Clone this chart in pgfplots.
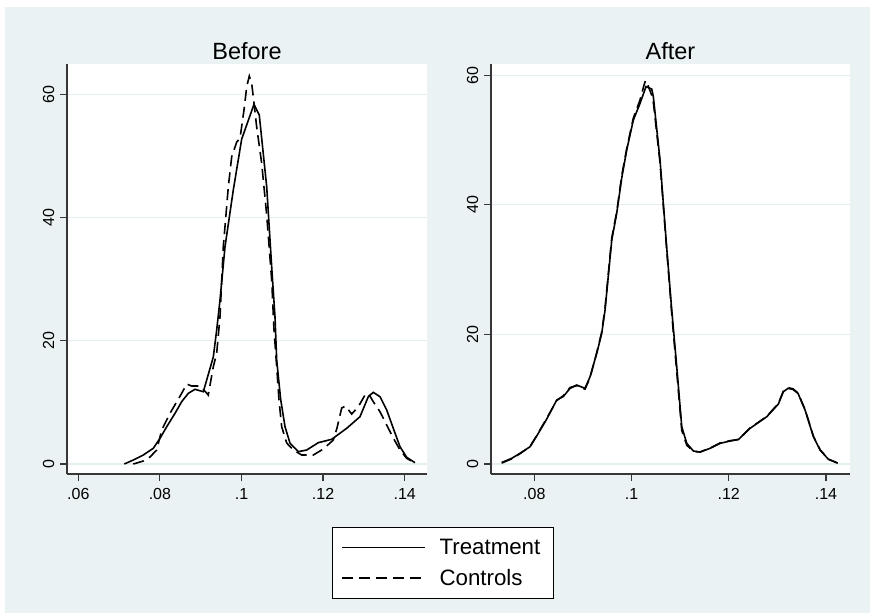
\documentclass[border=0pt]{standalone}
\usepackage{fontspec}
\setmainfont{Liberation Sans}
\usepackage{pgfplots}
\pgfplotsset{compat=1.18}

\definecolor{bgc}{RGB}{234,242,243}
\definecolor{gridc}{RGB}{228,238,240}
\definecolor{axc}{RGB}{55,55,55}

\pgfplotsset{
  stata/.style={
    scale only axis,
    height=410pt,
    axis background/.style={fill=white},
    axis x line*=bottom, axis y line*=left,
    tick align=outside, major tick length=7pt,
    axis line style={axc, line width=1.2pt},
    major tick style={axc, line width=1.2pt},
    ymajorgrids, grid style={gridc, line width=1.2pt},
    ytick={0,20,40,60}, yticklabels={0,20,40,60},
    yticklabel style={rotate=90, anchor=south, inner sep=0pt},
    xticklabel style={anchor=north, inner sep=0pt},
    xticklabel shift=7pt, yticklabel shift=5.5pt,
    tick label style={font=\fontsize{16}{19}\selectfont},
    /pgf/number format/assume math mode=true,
    title style={font=\fontsize{23.5}{28}\selectfont, inner sep=0pt, yshift=-1.5pt},
  },
  treat/.style={black, line width=1.6pt},
  ctrl/.style={black, line width=1.6pt, dash pattern=on 11pt off 6pt},
}

\begin{document}
\begin{tikzpicture}
\fill[white] (0pt,0pt) rectangle (873pt,614pt);
\fill[bgc] (5pt,1pt) rectangle (870pt,607pt);

% Before
\begin{axis}[stata,
  at={(67pt,140pt)}, anchor=south west, width=360pt,
  xmin=0.05723, xmax=0.14547, ymin=-1.62, ymax=64.9,
  xtick={0.06,0.08,0.1,0.12,0.14}, xticklabels={.06,.08,.1,.12,.14},
  title={Before},
  legend cell align=left,
  legend image code/.code={\draw[#1, line width=1.6pt] (0pt,0pt) -- (83pt,0pt);},
  legend style={at={(1.0444,-0.2166)}, anchor=center,
    draw=black, line width=1pt, fill=white,
    font=\fontsize{22.3}{26}\selectfont,
    inner xsep=9.3pt, inner ysep=12pt, row sep=13pt,
    nodes={inner sep=0pt},
    /tikz/every odd column/.append style={column sep=13.3pt}},
]
\addplot[treat] coordinates {
(0.07127,0) (0.07348,0.65) (0.07593,1.46) (0.07838,2.55) (0.08003,4.17)
(0.08167,6.05) (0.08370,8.22) (0.08534,10.11) (0.08696,11.47) (0.08860,12.12)
(0.09064,11.73) (0.09147,13.63) (0.09309,17.36) (0.09392,21.74) (0.09473,26.60)
(0.09596,35.25) (0.09799,44.45) (0.10005,52.72) (0.10306,58.35) (0.10436,56.61)
(0.10618,44.98) (0.10740,32.00) (0.10821,23.89) (0.10863,16.87) (0.10960,10.5)
(0.11067,6.05) (0.11190,3.36) (0.11393,2.00) (0.11598,2.27) (0.11882,3.46)
(0.12211,4.01) (0.12578,5.79) (0.12904,7.67) (0.13108,10.92) (0.13230,11.63)
(0.13395,10.92) (0.13559,8.76) (0.13721,5.79) (0.13885,2.81) (0.14049,1.09)
(0.14253,0.21)
};
\addlegendentry{Treatment\hspace*{4pt}}
\addplot[ctrl] coordinates {
(0.07348,0) (0.07593,0.49) (0.07757,1.14) (0.07922,2.27) (0.08044,5.5)
(0.08247,8.22) (0.08395,9.89) (0.08534,11.47) (0.08657,12.98) (0.08780,12.65)
(0.08983,12.65) (0.09081,12.00) (0.09186,11.19) (0.09309,15.78) (0.09392,17.96)
(0.09473,23.89) (0.09554,35.25) (0.09677,44.98) (0.09760,49.85) (0.09882,52.23)
(0.09963,52.83) (0.10061,57.42) (0.10128,61.20) (0.10191,62.94) (0.10250,61.75)
(0.10289,59.58) (0.10372,54.71) (0.10495,48.78) (0.10618,40.39) (0.10740,29.85)
(0.10797,21.74) (0.10863,15.78) (0.10919,10.38) (0.10985,6.05) (0.11108,3.41)
(0.11270,2.27) (0.11476,1.46) (0.11760,1.46) (0.12005,2.43) (0.12250,3.89)
(0.12341,5.84) (0.12456,9.08) (0.12549,9.41) (0.12701,8.11) (0.12863,9.29)
(0.13027,11.19) (0.13108,11.47) (0.13230,10.11) (0.13395,8.48) (0.13559,6.33)
(0.13721,4.22) (0.13885,2.27) (0.14049,0.92) (0.14211,0.32)
};
\addlegendentry{Controls}
\end{axis}

% After
\begin{axis}[stata,
  at={(491pt,140pt)}, anchor=south west, width=359pt,
  xmin=0.07109, xmax=0.14494, ymin=-1.54, ymax=61.74,
  xtick={0.08,0.1,0.12,0.14}, xticklabels={.08,.1,.12,.14},
  title={After},
]
\addplot[treat] coordinates {
(0.07329,0.23) (0.07535,0.88) (0.07706,1.65) (0.07912,2.67) (0.08049,4.32)
(0.08255,6.94) (0.08461,9.88) (0.08597,10.42) (0.08735,11.68) (0.08872,12.19)
(0.09043,11.68) (0.09146,13.47) (0.09284,17.08) (0.09387,20.17) (0.09455,23.76)
(0.09593,34.57) (0.09695,38.69) (0.09798,44.14) (0.09901,48.46) (0.10037,53.09)
(0.10175,55.66) (0.10298,58.26) (0.10416,57.87) (0.10449,56.68) (0.10586,46.91)
(0.10724,33.33) (0.10827,23.77) (0.10930,15.02) (0.11033,5.76) (0.11136,3.19)
(0.11272,2.01) (0.11409,1.85) (0.11615,2.42) (0.11821,3.19) (0.12027,3.55)
(0.12198,3.78) (0.12438,5.51) (0.12782,7.30) (0.13020,9.26) (0.13123,11.16)
(0.13220,11.68) (0.13323,11.50) (0.13426,10.88) (0.13570,8.33) (0.13741,4.21)
(0.13879,2.16) (0.14049,0.73) (0.14239,0.15)
};
\addplot[ctrl] coordinates {
(0.07329,0.15) (0.07535,0.80) (0.07706,1.60) (0.07912,2.70) (0.08049,4.40)
(0.08255,7.05) (0.08461,9.80) (0.08597,10.55) (0.08735,11.80) (0.08872,12.10)
(0.09043,11.55) (0.09146,13.30) (0.09284,17.20) (0.09387,20.40) (0.09455,24.10)
(0.09593,34.90) (0.09695,38.90) (0.09798,44.50) (0.09901,48.70) (0.10037,53.40)
(0.10175,56.20) (0.10257,58.50) (0.10288,59.20) (0.10340,58.40) (0.10416,56.90)
(0.10449,55.80) (0.10586,46.50) (0.10724,33.00) (0.10827,23.20) (0.10930,14.20)
(0.11033,5.20) (0.11136,2.90) (0.11272,1.95) (0.11409,1.85) (0.11615,2.45)
(0.11821,3.25) (0.12027,3.60) (0.12198,3.80) (0.12438,5.55) (0.12782,7.35)
(0.13020,9.35) (0.13123,11.25) (0.13220,11.80) (0.13323,11.60) (0.13426,10.95)
(0.13570,8.40) (0.13741,4.30) (0.13879,2.20) (0.14049,0.75) (0.14239,0.15)
};
\end{axis}
\end{tikzpicture}
\end{document}
